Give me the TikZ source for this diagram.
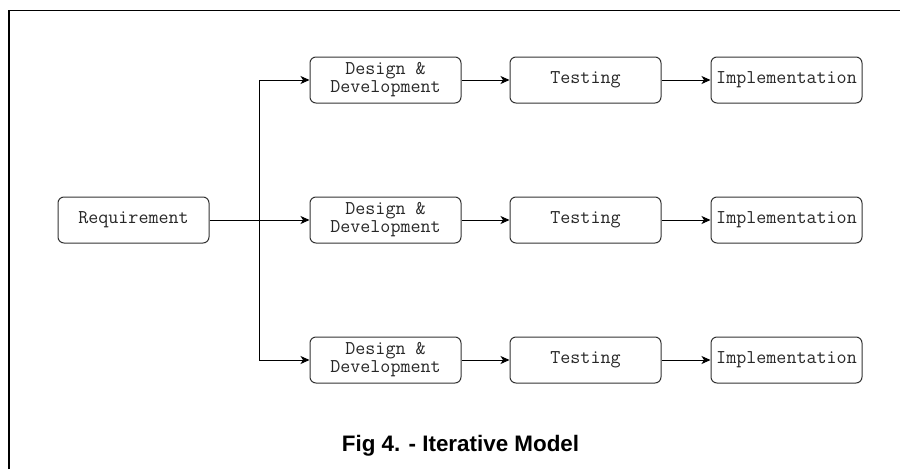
\documentclass[tikz,border=0pt]{standalone}
\usepackage{fontspec}
\setmainfont{Liberation Sans}
\usetikzlibrary{arrows.meta}
\begin{document}
\begin{tikzpicture}[x=1pt,y=-1pt,
  box/.style={draw=black!80,line width=1pt,rounded corners=6pt,minimum width=151pt,minimum height=46pt,inner sep=0pt,font=\ttfamily\fontsize{19.5}{18}\selectfont,text=black!85,align=center},
  conn/.style={draw=black,line width=1pt,-{Stealth[length=9pt,width=8pt,inset=2.5pt]}}]
\useasboundingbox (0,0) rectangle (900,469);
\draw[line width=1.5pt] (9,469) -- (9,10.5) -- (900,10.5);
\node[box] (req) at (133.5,220) {Requirement};
\foreach \r/\y in {a/80,b/220,c/360}{
  \node[box] (d\r) at (385.5,\y) {Design \&\\Development};
  \node[box] (t\r) at (585.5,\y) {Testing};
  \node[box] (i\r) at (786.5,\y) {Implementation};
  \draw[conn] (d\r) -- (t\r);
  \draw[conn] (t\r) -- (i\r);
}
\coordinate (split) at (259,220);
\draw[conn] (req) -- (db);
\draw[conn] (split) |- (da);
\draw[conn] (split) |- (dc);
\node[font=\bfseries\fontsize{22.4}{26}\selectfont,anchor=base] (cap) at (460.5,451) {Fig 4. - Iterative Model};
\end{tikzpicture}
\end{document}
